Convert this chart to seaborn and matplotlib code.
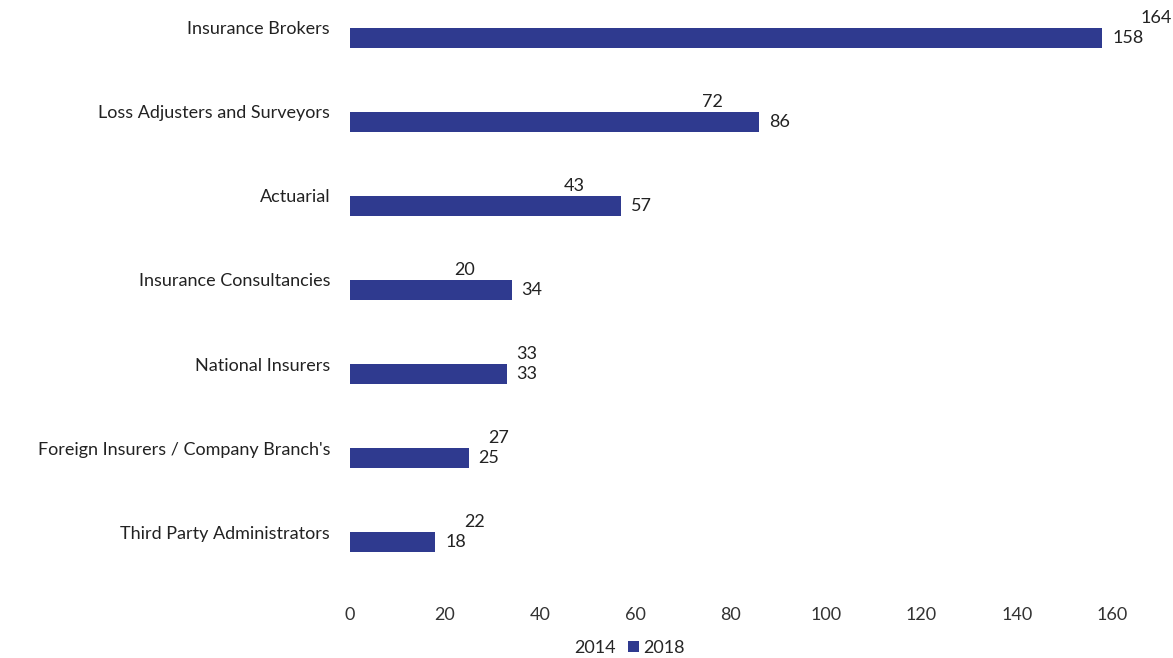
import matplotlib
matplotlib.use("Agg")
import matplotlib.pyplot as plt
import seaborn as sns
import pandas as pd
from matplotlib.patches import Patch

categories = ["Insurance Brokers", "Loss Adjusters and Surveyors", "Actuarial",
              "Insurance Consultancies", "National Insurers",
              "Foreign Insurers / Company Branch's", "Third Party Administrators"]
values_2014 = [164, 72, 43, 20, 33, 27, 22]
values_2018 = [158, 86, 57, 34, 33, 25, 18]
years = ["2014", "2018"]
xticks = [0, 20, 40, 60, 80, 100, 120, 140, 160]

df = pd.DataFrame({
    "category": categories * 2,
    "value": values_2014 + values_2018,
    "year": [years[0]] * len(categories) + [years[1]] * len(categories),
})

sns.set_style("white")
plt.rcParams["font.family"] = ["Lato", "DejaVu Sans"]

blue = "#2f3a8f"
fs = 13
fig = plt.figure(figsize=(11.73, 6.58), dpi=100)
ax = fig.add_axes([0.298, 1 - 565 / 658, 0.65, 560 / 658])
sns.barplot(data=df, y="category", x="value", hue="year", hue_order=years,
            palette={"2014": "white", "2018": blue}, width=0.48, orient="h",
            ax=ax, legend=False, saturation=1, linewidth=0)

for cont in ax.containers:
    ax.bar_label(cont, padding=7, fontsize=fs, color="#222222", annotation_clip=False)

ax.set_xlim(0, 160)
ax.set_ylim(6.39, -0.27)
ax.set_xticks(xticks)
ax.set_xlabel("")
ax.set_ylabel("")
ax.tick_params(axis="x", pad=30, labelsize=fs, colors="#333333", length=0)
ax.tick_params(axis="y", pad=14, labelsize=fs, colors="#222222", length=0)
sns.despine(ax=ax, left=True, bottom=True, top=True, right=True)

handles = [Patch(facecolor="white", edgecolor="none", label="2014"),
           Patch(facecolor=blue, edgecolor="none", label="2018")]
fig.legend(handles=handles, loc="center", bbox_to_anchor=(622 / 1173, 1 - 648 / 658),
           ncol=2, frameon=False, fontsize=fs, handlelength=0.6, handleheight=0.6,
           handletextpad=0.2, columnspacing=0.7)

fig.savefig("out.png", dpi=100)
